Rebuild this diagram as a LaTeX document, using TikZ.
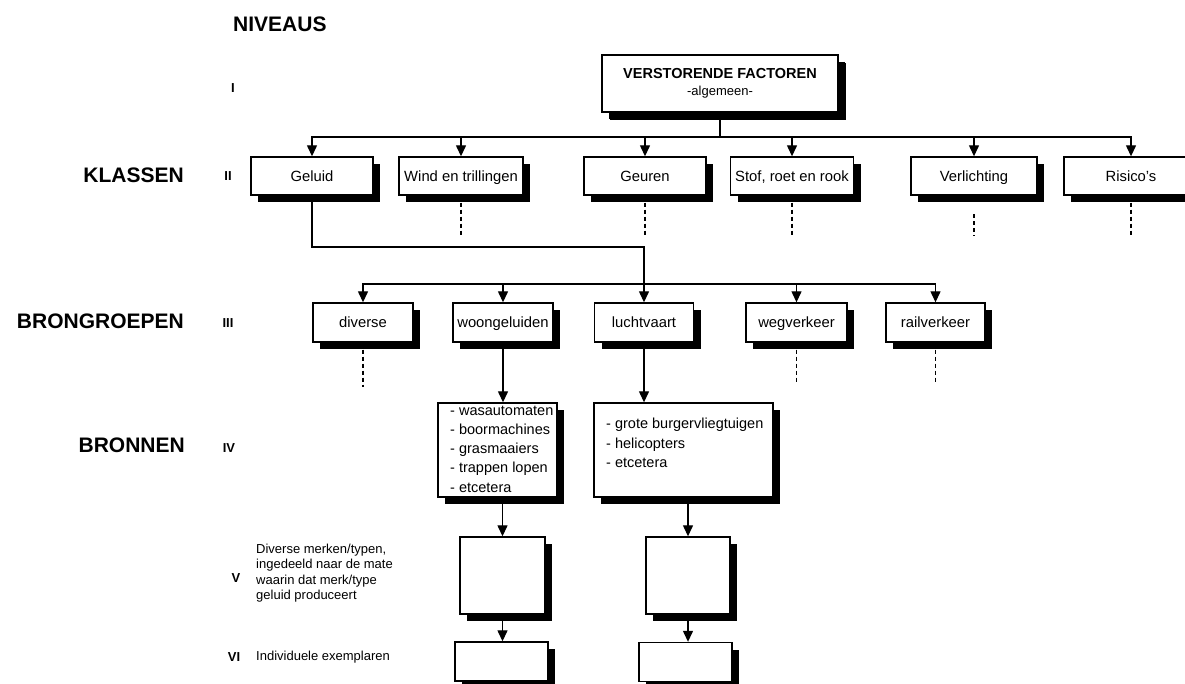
\documentclass[tikz,border=0pt]{standalone}
\usepackage{fontspec}
\setmainfont{Liberation Sans}
\usetikzlibrary{arrows.meta,shadows}
\begin{document}
\begin{tikzpicture}[x=1pt,y=-1pt,
  box/.style={draw, line width=1.4pt, fill=white, inner sep=0pt,
    font=\fontsize{14.8}{17}\selectfont, text height=12pt, text depth=2pt,
    drop shadow={shadow xshift=7pt,shadow yshift=-7pt,fill=black,opacity=1}},
  arr/.style={line width=1.3pt,-{Triangle[length=11pt,width=10pt]}},
  con/.style={line width=1.3pt},
  dsh/.style={line width=1.5pt,dash pattern=on 4pt off 3pt},
  big/.style={font=\fontsize{21}{24}\selectfont\bfseries, inner sep=0pt},
  num/.style={font=\fontsize{13}{15}\selectfont\bfseries, inner sep=0pt},
  small/.style={font=\fontsize{13}{15.5}\selectfont, align=left, inner sep=0pt},
  list/.style={font=\fontsize{14.5}{19.2}\selectfont, align=left, inner sep=0pt}
]
\useasboundingbox (0,0) rectangle (1185,683);
\clip (0,0) rectangle (1185,683);

% left labels
\node[big, anchor=west] (niv) at (233,24) {NIVEAUS};
\node[big, anchor=east] (kla) at (184,175) {KLASSEN};
\node[big, anchor=east] (bgr) at (184,321) {BRONGROEPEN};
\node[big, anchor=east] (bro) at (185,445) {BRONNEN};
\node[num] (n1) at (233,88) {I};
\node[num] (n2) at (228,176) {II};
\node[num] (n3) at (228,323) {III};
\node[num] (n4) at (229,448) {IV};
\node[num] (n5) at (236,578) {V};
\node[num] (n6) at (234,657) {VI};
\node[small, anchor=west] (tv) at (256,573) {Diverse merken/typen,\\ingedeeld naar de mate\\waarin dat merk/type\\geluid produceert};
\node[small, anchor=west] (tvi) at (256,657) {Individuele exemplaren};

% level I
\node[box, minimum width=236pt, minimum height=57pt, align=center, text height=, text depth=,
  drop shadow={shadow xshift=8pt,shadow yshift=-8pt,fill=black,opacity=1}] (top) at (720,83.5)
  {\fontsize{14.5}{18}\selectfont\bfseries VERSTORENDE FACTOREN\\\fontsize{13}{18}\selectfont -algemeen-};

% level II
\node[box, minimum width=122pt, minimum height=38pt] (geluid) at (312,176) {Geluid};
\node[box, minimum width=124pt, minimum height=38pt] (wind) at (461,176) {Wind en trillingen};
\node[box, minimum width=122pt, minimum height=38pt] (geuren) at (645,176) {Geuren};
\node[box, minimum width=123pt, minimum height=38pt] (stof) at (792,176) {Stof, roet en rook};
\node[box, minimum width=126pt, minimum height=38pt] (verl) at (974,176) {Verlichting};
\node[box, minimum width=134pt, minimum height=38pt] (ris) at (1131,176) {Risico's};

% level III
\node[box, minimum width=100pt, minimum height=39pt] (div) at (363,322.5) {diverse};
\node[box, minimum width=100pt, minimum height=39pt] (woon) at (503,322.5) {woongeluiden};
\node[box, minimum width=99pt, minimum height=39pt] (lucht) at (644,322.5) {luchtvaart};
\node[box, minimum width=101pt, minimum height=39pt] (weg) at (796.5,322.5) {wegverkeer};
\node[box, minimum width=99pt, minimum height=39pt] (rail) at (935.5,322.5) {railverkeer};

% level IV
\node[box, minimum width=119pt, minimum height=94pt] (l1) at (497.5,450) {};
\node[list, anchor=west] (t1) at (450,449) {- wasautomaten\\- boormachines\\- grasmaaiers\\- trappen lopen\\- etcetera};
\node[box, minimum width=179pt, minimum height=94pt] (l2) at (683.5,450) {};
\node[list, anchor=west] (t2) at (606,443) {- grote burgervliegtuigen\\- helicopters\\- etcetera};

% level V and VI
\node[box, minimum width=85pt, minimum height=77pt] (v1) at (502.5,575.5) {};
\node[box, minimum width=84pt, minimum height=77pt] (v2) at (688,575.5) {};
\node[box, minimum width=93pt, minimum height=39pt] (vi1) at (501.5,661.5) {};
\node[box, minimum width=93pt, minimum height=39pt] (vi2) at (685.5,662) {};

% connectors level I -> II
\coordinate (j1) at (720,137);
\draw[con] (top.south) -- (j1);
\foreach \n in {geluid,wind,geuren,stof,verl,ris} \draw[arr] (j1) -| (\n.north);

% dashed continuations
\coordinate (dwind) at (461,237);
\coordinate (dgeur) at (645,237);
\coordinate (dstof) at (792,237);
\coordinate (dv1) at (974,214);
\coordinate (dv2) at (974,236);
\coordinate (dris) at (1131,237);
\draw[dsh] (wind.south) -- (dwind);
\draw[dsh] (geuren.south) -- (dgeur);
\draw[dsh] (stof.south) -- (dstof);
\draw[dsh] (dv1) -- (dv2);
\draw[dsh] (ris.south) -- (dris);

% Geluid -> level III
\coordinate (j3) at (644,247);
\coordinate (j2) at (644,284);
\draw[arr] (geluid.south) |- (j3) -- (lucht.north);
\foreach \n in {div,woon,weg,rail} \draw[arr] (j2) -| (\n.north);

\coordinate (ddiv) at (363,387);
\coordinate (dweg) at (796.5,383);
\coordinate (drail) at (935.5,383);
\draw[dsh] (div.south) -- (ddiv);
\draw[dsh] (weg.south) -- (dweg);
\draw[dsh] (rail.south) -- (drail);

% level III -> IV -> V -> VI
\draw[arr] (woon.south) -- (woon.south |- l1.north);
\draw[arr] (lucht.south) -- (lucht.south |- l2.north);
\draw[arr] (v1.north |- l1.south) -- (v1.north);
\draw[arr] (v2.north |- l2.south) -- (v2.north);
\draw[arr] (v1.south) -- (v1.south |- vi1.north);
\draw[arr] (v2.south) -- (v2.south |- vi2.north);
\end{tikzpicture}
\end{document}
